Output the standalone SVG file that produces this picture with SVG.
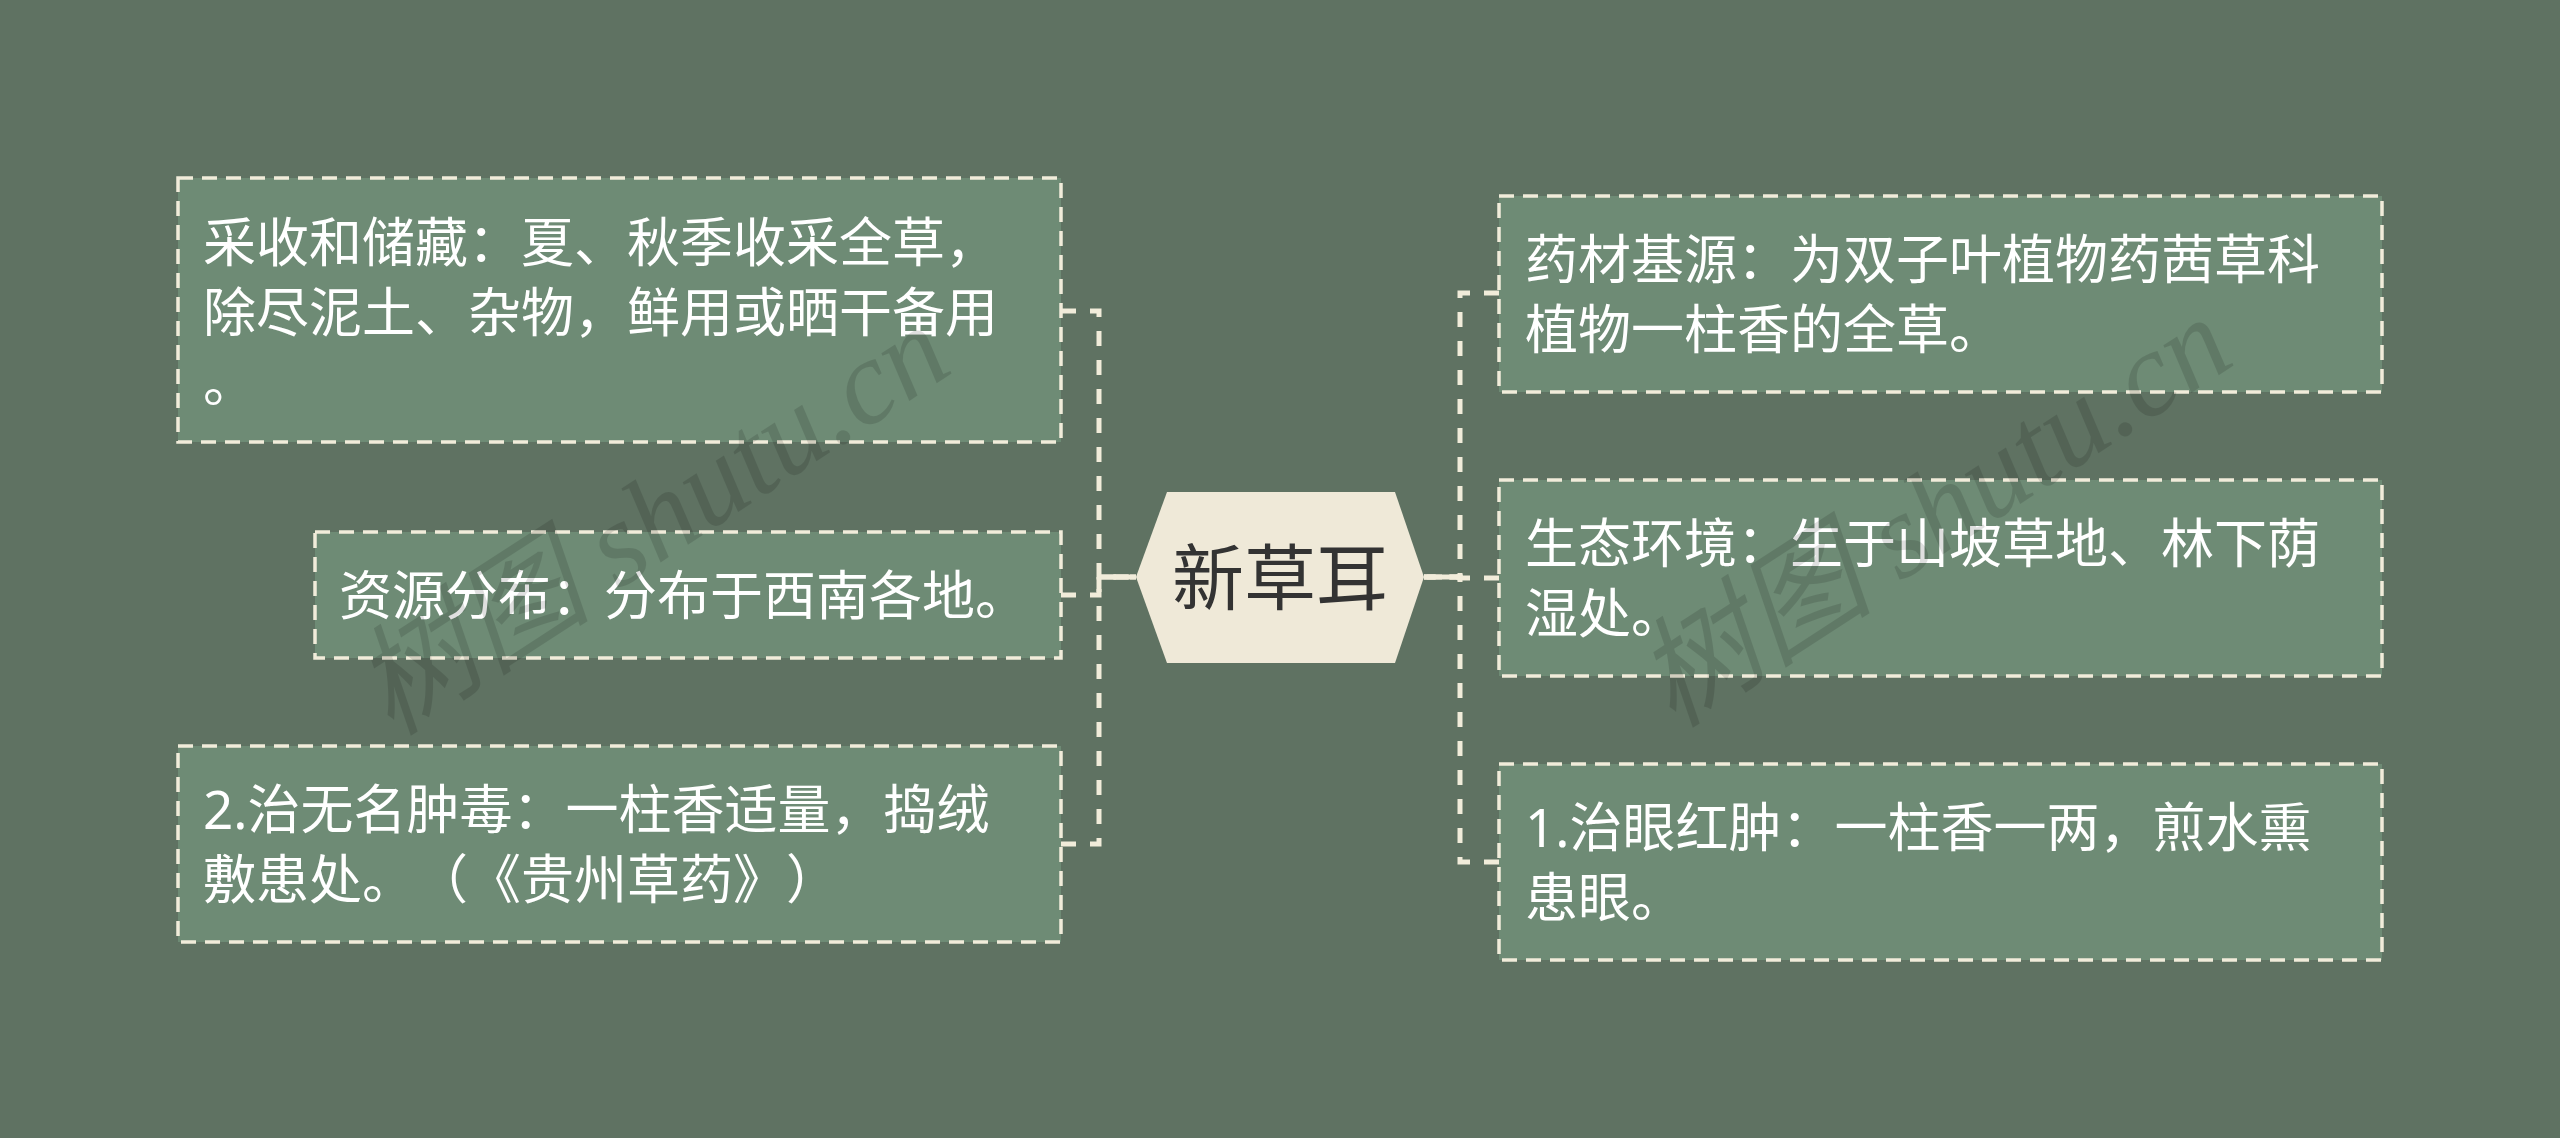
<svg xmlns="http://www.w3.org/2000/svg" width="2560" height="1138" viewBox="0 0 2560 1138">
<style>
.bg{fill:#5f7262}
.box{fill:#6e8b75;stroke:#f1ecda;stroke-width:3.5;stroke-dasharray:15 9}
.t{font-family:"Noto Sans","Noto Sans CJK SC",sans-serif;font-size:53px;fill:#ffffff;text-spacing-trim:space-all}
.ct{font-family:"Noto Sans","Noto Sans CJK SC",sans-serif;font-size:72px;fill:#333333}
.hex{fill:#efe9d8}
.c{fill:none;stroke:#f1ecda;stroke-width:5;stroke-dasharray:15 14}
.trunk{fill:none;stroke:#f1ecda;stroke-width:5}
.wm{font-family:"Liberation Serif","Noto Sans CJK SC",serif;font-style:italic;font-size:120px;fill:#000000;opacity:0.12}
</style>
<rect class="bg" x="0" y="0" width="2560" height="1138"/>
<g id="connectors">
<path class="trunk" d="M1136,577 H1099"/>
<path class="trunk" d="M1424,577 H1460"/>
<path class="c" d="M1061,311 H1099 V577 H1136"/>
<path class="c" d="M1061,595 H1099 V577 H1136"/>
<path class="c" d="M1061,844 H1099 V577 H1136"/>
<path class="c" d="M1499,293 H1460 V577 H1424"/>
<path class="c" d="M1499,578 H1460 V577 H1424"/>
<path class="c" d="M1499,862 H1460 V577 H1424"/>
</g>
<g id="center">
<polygon class="hex" points="1136,577 1167,492 1395,492 1424,577 1395,663 1167,663"/>
<text class="ct" x="1280" y="604" text-anchor="middle">新草耳</text>
</g>
<g id="left1">
<rect class="box" x="178" y="178" width="883" height="264"/>
<text class="t" x="203" y="262">采收和储藏：夏、秋季收采全草，</text>
<text class="t" x="203" y="332">除尽泥土、杂物，鲜用或晒干备用</text>
<text class="t" x="203" y="402">。</text>
</g>
<g id="left2">
<rect class="box" x="315" y="532" width="746" height="126"/>
<text class="t" x="339" y="615">资源分布：分布于西南各地。</text>
</g>
<g id="left3">
<rect class="box" x="178" y="746" width="883" height="196"/>
<text class="t" x="203" y="829">2.治无名肿毒：一柱香适量，捣绒</text>
<text class="t" x="203" y="899">敷患处。（《贵州草药》）</text>
</g>
<g id="right1">
<rect class="box" x="1499" y="196" width="883" height="196"/>
<text class="t" x="1525" y="279">药材基源：为双子叶植物药茜草科</text>
<text class="t" x="1525" y="349">植物一柱香的全草。</text>
</g>
<g id="right2">
<rect class="box" x="1499" y="480" width="883" height="196"/>
<text class="t" x="1525" y="563">生态环境：生于山坡草地、林下荫</text>
<text class="t" x="1525" y="633">湿处。</text>
</g>
<g id="right3">
<rect class="box" x="1499" y="764" width="883" height="196"/>
<text class="t" x="1525" y="847">1.治眼红肿：一柱香一两，煎水熏</text>
<text class="t" x="1525" y="917">患眼。</text>
</g>
<g id="watermarks">
<text class="wm" x="653" y="560" text-anchor="middle" transform="rotate(-33 653 522)">树图 shutu.cn</text>
<text class="wm" x="1935" y="552" text-anchor="middle" transform="rotate(-33 1935 514)">树图 shutu.cn</text>
</g>
</svg>
